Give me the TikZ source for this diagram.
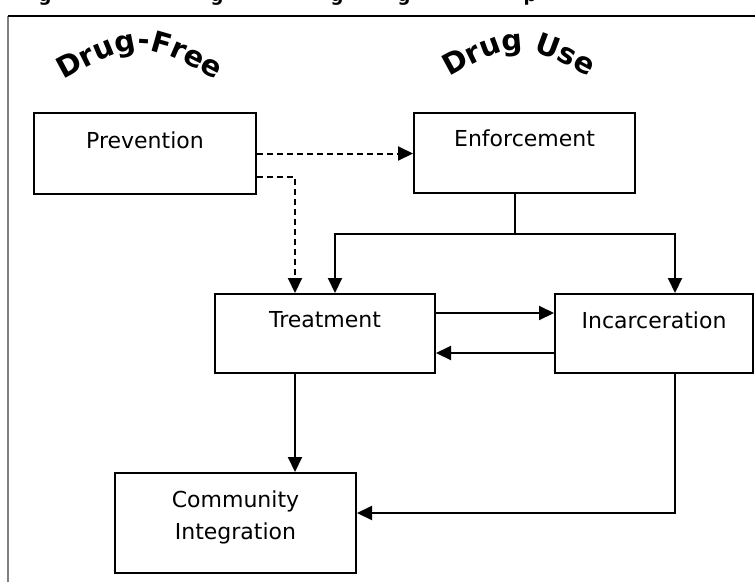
\documentclass[tikz,border=0pt]{standalone}
\usepackage{fontspec}
\setmainfont{DejaVu Sans}
\usetikzlibrary{arrows.meta,decorations.text}
\begin{document}
\begin{tikzpicture}[x=1pt,y=-1pt,
  box/.style={draw,line width=2pt,rectangle,inner sep=0pt},
  lbl/.style={font=\fontsize{22}{26}\selectfont,inner sep=0pt,anchor=base},
  conn/.style={line width=2pt},
  arr/.style={conn,-{Triangle[length=15pt,width=14pt]}},
  darr/.style={arr,dash pattern=on 6pt off 4pt},
  frag/.style={font=\bfseries\fontsize{18}{20}\selectfont,inner sep=0pt,anchor=base}
]
\useasboundingbox (0,0) rectangle (755,582);
% frame
\draw[line width=1.5pt,gray] (8,582) -- (8,16);
\draw[line width=1.5pt] (8,16) -- (755,16);
% clipped title fragments
\begin{scope}
\clip (0,0) rectangle (755,15);
\node[frag] (f1) at (45,1) {g};
\node[frag] (f2) at (217,1) {g};
\node[frag] (f3) at (337,1) {g};
\node[frag] (f4) at (404,1) {g};
\node[frag] (f5) at (530,1) {p};
\end{scope}
% curved headings
\path[decorate,decoration={text along path,text align=center,
  text={|\bfseries\fontsize{29}{32}\selectfont|Drug-Free}}]
  (52,86) .. controls (139,38) .. (228,86);
\path[decorate,decoration={text along path,text align=center,
  text={|\bfseries\fontsize{29}{32}\selectfont|Drug Use}}]
  (433,86) .. controls (518,38) .. (605,86);
% boxes
\node[box,minimum width=222pt,minimum height=81pt] (prev) at (145,153.5) {};
\node[box,minimum width=221pt,minimum height=80pt] (enf) at (524.5,153) {};
\node[box,minimum width=220pt,minimum height=79pt] (treat) at (325,333.5) {};
\node[box,minimum width=198pt,minimum height=79pt] (inc) at (654,333.5) {};
\node[box,minimum width=241pt,minimum height=100pt] (comm) at (235.5,523) {};
% labels
\node[lbl] (prevt) at ([yshift=-36pt]prev.north) {Prevention};
\node[lbl] (enft) at ([yshift=-34pt]enf.north) {Enforcement};
\node[lbl] (treatt) at ([yshift=-34pt]treat.north) {Treatment};
\node[lbl] (inct) at ([yshift=-35pt]inc.north) {Incarceration};
\node[lbl] (commt1) at ([yshift=-35pt]comm.north) {Community};
\node[lbl] (commt2) at ([yshift=-67pt]comm.north) {Integration};
% connectors
\draw[darr] (prev.east) -- (prev.east -| enf.west);
\draw[darr] ([yshift=-23pt]prev.east) -| ([xshift=-30pt]treat.north);
\coordinate (split) at ([xshift=-9.5pt,yshift=-40pt]enf.south);
\draw[conn] ([xshift=-9.5pt]enf.south) -- (split);
\draw[arr] (split) -| ([xshift=10pt]treat.north);
\draw[arr] (split) -| ([xshift=21pt]inc.north);
\draw[arr] ([yshift=20.5pt]treat.east) -- ([yshift=20.5pt]treat.east -| inc.west);
\draw[arr] ([yshift=-19.5pt]treat.east -| inc.west) -- ([yshift=-19.5pt]treat.east);
\draw[arr] ([xshift=-30pt]treat.south) -- ([xshift=-30pt]treat.south |- comm.north);
\draw[arr] ([xshift=21pt]inc.south) |- ([yshift=10pt]comm.east);
\end{tikzpicture}
\end{document}
